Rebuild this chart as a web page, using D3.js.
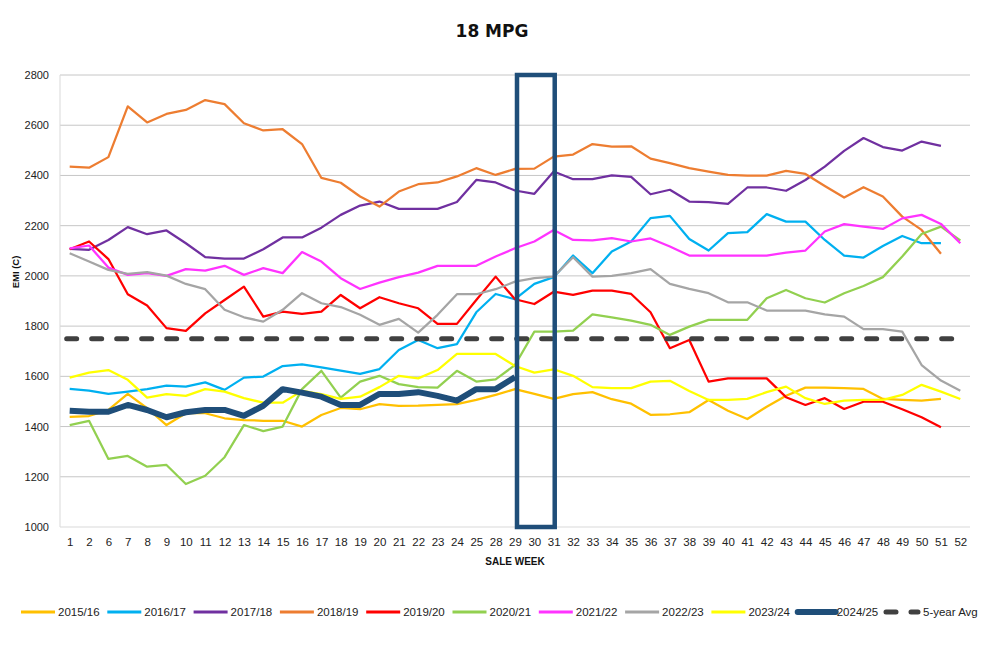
<!DOCTYPE html>
<html>
<head>
<meta charset="utf-8">
<script src="https://cdn.jsdelivr.net/npm/d3@7"></script>
<style>
  body { margin: 0; background: #fff; }
  svg { display: block; }
</style>
</head>
<body>
<script>
// sale weeks shown on the x axis (3-5 and 26-27 are not sale weeks)
var weeks = [1,2,6,7,8,9,10,11,12,13,14,15,16,17,18,19,20,21,22,23,24,25,28,29,30,31,32,33,34,35,36,37,38,39,40,41,42,43,44,45,46,47,48,49,50,51,52];
var yTicks = [1000,1200,1400,1600,1800,2000,2200,2400,2600,2800];
var seasons = ["2015/16","2016/17","2017/18","2018/19","2019/20","2020/21","2021/22","2022/23","2023/24","2024/25"];
var colors = ["#FFC000","#00B0F0","#7030A0","#ED7D31","#FF0000","#92D050","#FF33FF","#A5A5A5","#FFFF00","#1F4E79"];

var s1516 = [1439,1442,1466,1530,1473,1406,1453,1453,1433,1426,1423,1423,1400,1446,1474,1469,1489,1482,1483,1486,1489,1506,1526,1549,1530,1510,1529,1537,1509,1491,1447,1449,1457,1506,1463,1430,1479,1523,1555,1555,1553,1550,1510,1506,1503,1510,null];
var s1617 = [1550,1543,1530,1539,1549,1563,1559,1576,1546,1595,1599,1641,1648,1636,1623,1610,1629,1705,1745,1712,1728,1855,1928,1907,1968,1995,2081,2011,2097,2137,2230,2239,2147,2101,2170,2174,2246,2216,2216,2143,2081,2073,2119,2159,2130,2130,null];
var s1718 = [2108,2104,2143,2194,2166,2181,2130,2075,2069,2069,2106,2153,2153,2192,2243,2280,2296,2267,2267,2267,2294,2382,2372,2340,2327,2416,2385,2385,2400,2394,2325,2343,2296,2294,2287,2352,2352,2339,2382,2435,2498,2549,2513,2499,2535,2518,null];
var s1819 = [2435,2431,2473,2675,2611,2645,2661,2700,2684,2608,2579,2584,2525,2390,2371,2316,2276,2336,2365,2372,2396,2429,2402,2426,2427,2475,2483,2525,2515,2516,2467,2449,2429,2415,2402,2399,2399,2418,2406,2358,2312,2353,2316,2236,2183,2088,null];
var s1920 = [2106,2137,2067,1927,1882,1792,1781,1851,1904,1957,1838,1858,1849,1858,1924,1871,1915,1891,1871,1809,1809,1904,1997,1907,1888,1937,1924,1941,1941,1928,1855,1712,1745,1579,1592,1592,1592,1517,1486,1513,1470,1499,1499,1469,1437,1397,null];
var s2021 = [1406,1423,1271,1283,1240,1247,1171,1204,1278,1406,1382,1400,1549,1622,1515,1579,1602,1569,1557,1555,1622,1579,1588,1645,1778,1778,1782,1847,1835,1822,1805,1765,1798,1825,1825,1825,1911,1944,1911,1894,1931,1960,1995,2077,2167,2196,2141];
var s2122 = [2110,2121,2033,2004,2011,2000,2027,2021,2040,2004,2031,2011,2095,2057,1991,1948,1973,1995,2013,2040,2040,2040,2077,2110,2137,2183,2143,2141,2150,2137,2149,2117,2081,2081,2081,2081,2081,2093,2101,2177,2206,2196,2187,2229,2243,2207,2130];
var s2223 = [2090,2057,2024,2008,2015,2001,1968,1947,1865,1835,1818,1865,1931,1891,1876,1845,1805,1829,1774,1845,1927,1927,1947,1977,1991,1997,2074,1997,2000,2011,2027,1968,1948,1931,1895,1895,1862,1862,1862,1847,1838,1788,1788,1778,1645,1583,1543];
var s2324 = [1595,1615,1625,1586,1515,1529,1522,1549,1539,1513,1495,1495,1542,1529,1510,1519,1557,1602,1592,1625,1689,1689,1689,1641,1615,1628,1602,1557,1553,1553,1579,1582,1542,1506,1506,1510,1537,1559,1513,1490,1503,1506,1506,1526,1566,1539,1510];
var s2425 = [1463,1459,1459,1486,1466,1437,1457,1466,1466,1443,1483,1549,1535,1519,1486,1486,1530,1530,1537,1522,1503,1549,1549,1597,null,null,null,null,null,null,null,null,null,null,null,null,null,null,null,null,null,null,null,null,null,null,null];
var avg5 = 1750;
var highlightWeeks = [29, 31];

var series = [s1516,s1617,s1718,s1819,s1920,s2021,s2122,s2223,s2324,s2425];

function main() {
  document.body.innerHTML = '<svg width="987" height="648"></svg>';
  var svg = d3.select("svg");
  var left = 60, right = 970, top = 75, bottom = 527;
  var font = "Liberation Sans, Arial, sans-serif";

  var x = d3.scalePoint().domain(weeks).range([left, right]).padding(0.5);
  var y = d3.scaleLinear().domain([1000, 2800]).range([bottom, top]);

  // gridlines
  svg.append("g").selectAll("line").data(yTicks.slice(1)).enter().append("line")
    .attr("x1", left).attr("x2", right)
    .attr("y1", function(d){ return y(d); }).attr("y2", function(d){ return y(d); })
    .attr("stroke", "#C6C6C6").attr("stroke-width", 1);
  svg.append("line").attr("x1", left).attr("x2", right).attr("y1", bottom).attr("y2", bottom)
    .attr("stroke", "#D9D9D9");
  svg.append("line").attr("x1", left).attr("x2", left).attr("y1", top).attr("y2", bottom)
    .attr("stroke", "#D9D9D9");

  var yAxis = svg.append("g").attr("transform", "translate(" + left + ",0)")
    .call(d3.axisLeft(y).tickValues(yTicks).tickFormat(d3.format("d")).tickSize(0).tickPadding(11));
  yAxis.select(".domain").remove();
  yAxis.selectAll("text").attr("font-family", font)
    .attr("font-size", 11).attr("fill", "#222");

  var xAxis = svg.append("g").attr("transform", "translate(0," + bottom + ")")
    .call(d3.axisBottom(x).tickSize(0).tickPadding(11));
  xAxis.select(".domain").remove();
  xAxis.selectAll("text").attr("font-family", font)
    .attr("font-size", 11.5).attr("fill", "#222");

  var line = d3.line()
    .defined(function(d){ return d != null; })
    .x(function(d, i){ return x(weeks[i]); })
    .y(function(d){ return y(d); });

  series.forEach(function(s, i) {
    svg.append("path").datum(s)
      .attr("fill", "none")
      .attr("stroke", colors[i])
      .attr("stroke-width", i == 9 ? 6 : 2.25)
      .attr("stroke-linejoin", "round")
      .attr("d", line);
  });

  // 5-year average
  svg.append("line")
    .attr("x1", x(weeks[0]) - 3).attr("x2", x(weeks[weeks.length - 1]))
    .attr("y1", y(avg5)).attr("y2", y(avg5))
    .attr("stroke", "#404040").attr("stroke-width", 5)
    .attr("stroke-linecap", "round").attr("stroke-dasharray", "10,15");

  // highlighted weeks box
  svg.append("rect")
    .attr("x", x(highlightWeeks[0]) + 2).attr("y", y(2800))
    .attr("width", x(highlightWeeks[1]) - x(highlightWeeks[0]) - 1)
    .attr("height", y(1000) - y(2800))
    .attr("fill", "none").attr("stroke", "#1F4E79").attr("stroke-width", 4.5);

  // titles
  svg.append("text").attr("x", 492).attr("y", 37).attr("text-anchor", "middle")
    .attr("font-family", "DejaVu Sans, sans-serif").attr("font-weight", "bold")
    .attr("font-size", 17).attr("fill", "#111").text("18 MPG");
  svg.append("text").attr("x", 515).attr("y", 565).attr("text-anchor", "middle")
    .attr("font-family", font).attr("font-weight", "bold")
    .attr("font-size", 10).attr("fill", "#111").text("SALE WEEK");
  svg.append("text").attr("transform", "translate(19,272) rotate(-90)").attr("text-anchor", "middle")
    .attr("font-family", font).attr("font-weight", "bold")
    .attr("font-size", 9.5).attr("fill", "#111").text("EMI (C)");

  // legend
  var legend = svg.append("g").attr("transform", "translate(0,612)");
  var names = seasons.concat(["5-year Avg"]);
  names.forEach(function(n, i) {
    var lx = 21 + 86.3 * i;
    var g = legend.append("g").attr("transform", "translate(" + lx + ",0)");
    if (i < 10) {
      g.append("line").attr("x1", 0).attr("x2", i == 9 ? 38 : 34).attr("y1", 0).attr("y2", 0)
        .attr("stroke", colors[i]).attr("stroke-width", i == 9 ? 6 : 3)
        .attr("stroke-linecap", i == 9 ? "round" : "butt");
    } else {
      g.append("line").attr("x1", 2).attr("x2", 34).attr("y1", 0).attr("y2", 0)
        .attr("stroke", "#404040").attr("stroke-width", 5)
        .attr("stroke-linecap", "round").attr("stroke-dasharray", "10,15");
    }
    g.append("text").attr("x", i >= 9 ? 39 : 37).attr("y", 4)
      .attr("font-family", font)
      .attr("font-size", 11.5).attr("fill", "#222").text(n);
  });
}
main();
</script>
</body>
</html>
